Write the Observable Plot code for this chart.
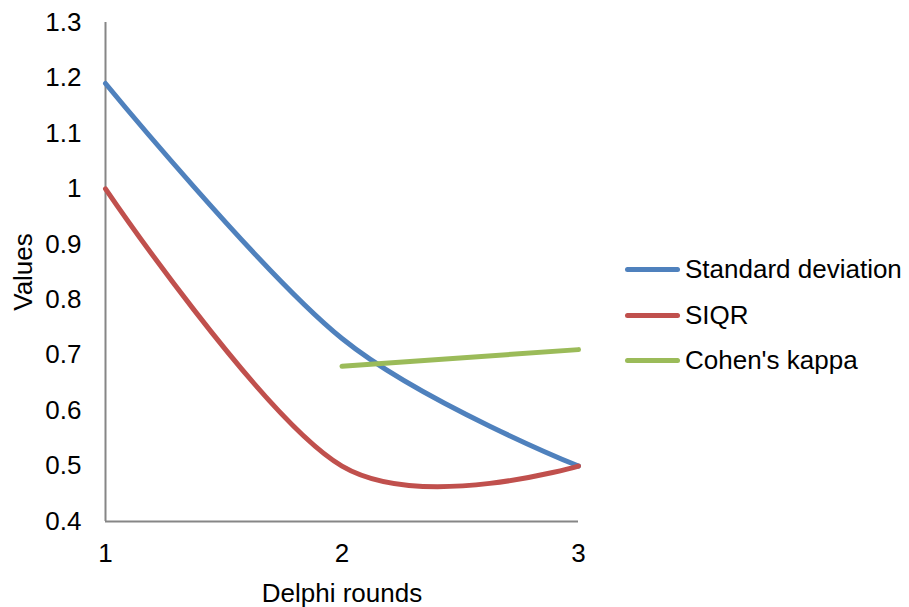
<!DOCTYPE html>
<html>
<head>
<meta charset="utf-8">
<script src="https://cdn.jsdelivr.net/npm/d3@7"></script>
<script src="https://cdn.jsdelivr.net/npm/@observablehq/plot@0.6"></script>
<style>
  html, body { margin: 0; padding: 0; background: #fff; }
  #wrap { position: relative; width: 909px; height: 607px; font-family: "Liberation Sans", Arial, sans-serif; }
  #legend { position: absolute; left: 625px; top: 247px; font-size: 26px; color: #000; }
  .row { display: flex; align-items: center; height: 45.5px; }
  .sw { width: 55px; height: 5px; border-radius: 3px; margin-right: 5px; }
</style>
</head>
<body>
<div id="wrap"></div>
<script>
const rounds = [1, 2, 3];
const sdValues = [1.19, 0.73, 0.5];
const siqrValues = [1.0, 0.5, 0.5];
const kappaRounds = [2, 3];
const kappaValues = [0.68, 0.71];
const seriesNames = ["Standard deviation", "SIQR", "Cohen's kappa"];
const seriesColors = ["#4F81BD", "#C0504D", "#9BBB59"];
const yTicks = [0.4, 0.5, 0.6, 0.7, 0.8, 0.9, 1.0, 1.1, 1.2, 1.3];
const yTickLabels = ["0.4", "0.5", "0.6", "0.7", "0.8", "0.9", "1", "1.1", "1.2", "1.3"];
const xTicks = [1, 2, 3];
const xTickLabels = ["1", "2", "3"];

const sd = rounds.map((r, i) => ({round: r, value: sdValues[i]}));
const siqr = rounds.map((r, i) => ({round: r, value: siqrValues[i]}));
const kappa = kappaRounds.map((r, i) => ({round: r, value: kappaValues[i]}));

const chart = Plot.plot({
  width: 909,
  height: 607,
  marginLeft: 105,
  marginRight: 331,
  marginTop: 22,
  marginBottom: 86,
  style: {fontSize: "26px", fontFamily: "'Liberation Sans', Arial, sans-serif", color: "#000", background: "#fff"},
  x: {domain: [1, 3]},
  y: {domain: [0.4, 1.3]},
  marks: [
    Plot.axisY({ticks: yTicks, tickFormat: d => yTickLabels[yTicks.findIndex(t => Math.abs(t - d) < 1e-9)], tickSize: 0, tickPadding: 24, label: "Values", labelAnchor: "center", labelArrow: "none", labelOffset: 92}),
    Plot.axisX({ticks: xTicks, tickFormat: d => xTickLabels[xTicks.indexOf(d)], tickSize: 0, tickPadding: 22, label: "Delphi rounds", labelAnchor: "center", labelArrow: "none", labelOffset: 80}),
    Plot.ruleX([1], {stroke: "#868686", strokeWidth: 2}),
    Plot.ruleY([0.4], {stroke: "#868686", strokeWidth: 2}),
    Plot.line(sd, {x: "round", y: "value", stroke: seriesColors[0], strokeWidth: 5, curve: "cardinal"}),
    Plot.line(siqr, {x: "round", y: "value", stroke: seriesColors[1], strokeWidth: 5, curve: "cardinal"}),
    Plot.line(kappa, {x: "round", y: "value", stroke: seriesColors[2], strokeWidth: 5, curve: "cardinal", strokeLinecap: "round"})
  ]
});

const wrap = document.getElementById("wrap");
wrap.appendChild(chart);
const legend = document.createElement("div");
legend.id = "legend";
seriesNames.forEach((name, i) => {
  const row = document.createElement("div");
  row.className = "row";
  const sw = document.createElement("span");
  sw.className = "sw";
  sw.style.background = seriesColors[i];
  const label = document.createElement("span");
  label.textContent = name;
  row.appendChild(sw);
  row.appendChild(label);
  legend.appendChild(row);
});
wrap.appendChild(legend);
</script>
</body>
</html>
